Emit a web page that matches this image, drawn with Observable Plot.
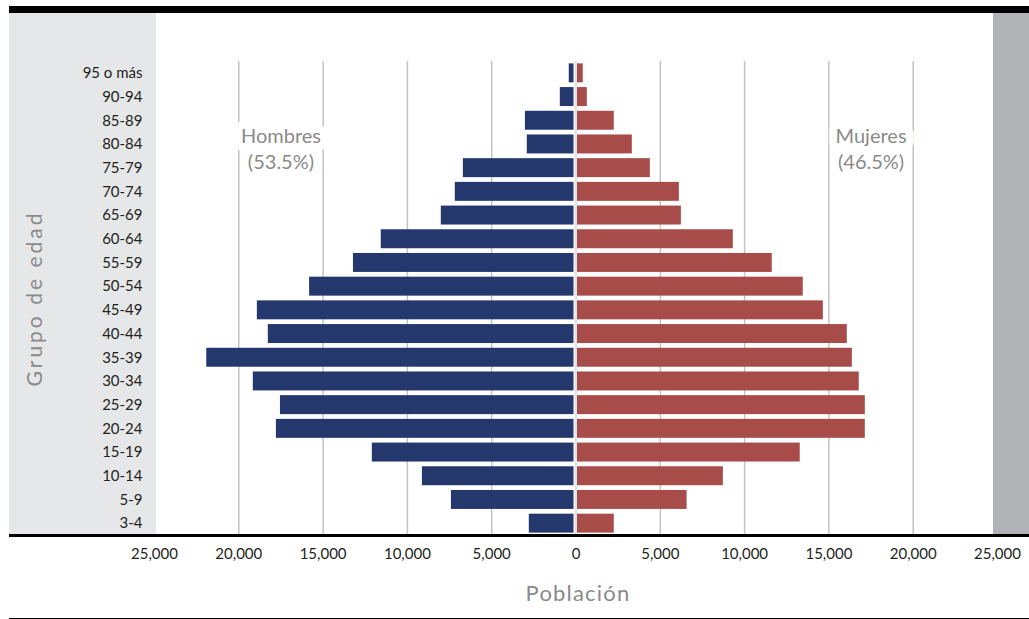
<!DOCTYPE html>
<html><head><meta charset="utf-8">
<script src="https://cdn.jsdelivr.net/npm/d3@7"></script>
<script src="https://cdn.jsdelivr.net/npm/@observablehq/plot@0.6"></script>
<style>
body{margin:0;background:#fff;}
#wrap{position:relative;width:1029px;height:619px;overflow:hidden;font-family:Lato,sans-serif;}
.deco{position:absolute;}
#chart{position:absolute;left:0;top:0;}
</style></head><body>
<div id="wrap">
<div class="deco" style="left:9px;top:6px;width:1020px;height:7px;background:#000"></div>
<div class="deco" style="left:9px;top:13px;width:147px;height:522px;background:#e6e7e8"></div>
<div class="deco" style="left:993px;top:13px;width:36px;height:522px;background:#b1b3b6"></div>
<div id="chart"></div>
<div class="deco" style="left:9px;top:534px;width:1020px;height:3px;background:#000"></div>
<div class="deco" style="left:9px;top:618px;width:1020px;height:1px;background:#000"></div>
</div>
<script>
const ageGroups = ["95 o más","90-94","85-89","80-84","75-79","70-74","65-69","60-64","55-59","50-54","45-49","40-44","35-39","30-34","25-29","20-24","15-19","10-14","5-9","3-4"];
const men   = [400, 930, 3000, 2890, 6680, 7160, 7990, 11550, 13200, 15800, 18900, 18250, 21900, 19140, 17530, 17770, 12080, 9110, 7390, 2770];
const women = [430, 670, 2270, 3340, 4410, 6130, 6250, 9330, 11640, 13480, 14670, 16090, 16390, 16800, 17160, 17160, 13300, 8740, 6590, 2270];
const xTicks = [-25000,-20000,-15000,-10000,-5000,0,5000,10000,15000,20000,25000];
const gridTicks = [-20000,-15000,-10000,-5000,5000,10000,15000,20000];
const sexLabels = ["Hombres\n(53.5%)","Mujeres\n(46.5%)"];
const sexLabelX = [-17500, 17500];
const sexLabelRow = "80-84";
const xTitle = "Población";
const yTitle = "Grupo de edad";

const rows = ageGroups.map((g,i) => ({group: g, men: men[i], women: women[i]}));
const labels = sexLabels.map((t,i) => ({text: t, x: sexLabelX[i]}));
const fmt = d3.format(",");

const chart = Plot.plot({
  width: 1029,
  height: 619,
  marginTop: 61,
  marginBottom: 84,
  marginLeft: 154,
  marginRight: 32,
  style: {background: "transparent", fontFamily: "Lato, sans-serif", fontSize: "15px", color: "#231f20"},
  x: {domain: [-25000, 25000], ticks: xTicks, tickFormat: d => fmt(Math.abs(d)), tickSize: 0, tickPadding: 13, label: null},
  y: {domain: ageGroups, label: null, tickSize: 0, tickPadding: 12, paddingInner: 0.2, paddingOuter: 0.1, round: false},
  marks: [
    Plot.ruleX(gridTicks, {stroke: "#c4c4c4", strokeWidth: 1.5}),
    Plot.ruleX([0], {stroke: "#e3e4e6", strokeWidth: 3}),
    Plot.text(labels, {x: "x", y: () => sexLabelRow, text: "text", dy: 3, fill: "#8a8a8a", stroke: "white", strokeWidth: 16, fontSize: 20, lineHeight: 1.3}),
    Plot.barX(rows, {y: "group", x1: 0, x2: d => -d.men, fill: "#24386e", insetRight: 2}),
    Plot.barX(rows, {y: "group", x1: 0, x2: d => d.women, fill: "#a84c4a", insetLeft: 1.5}),
    Plot.text([xTitle], {text: d => d, frameAnchor: "bottom", textAnchor: "middle", dy: 65, dx: 2, fill: "#8a8a8a", fontSize: 22}),
    Plot.text([yTitle], {text: d => d, frameAnchor: "left", textAnchor: "middle", rotate: -90, dx: -119, fill: "#8a8a8a", fontSize: 21})
  ]
});
d3.select(chart).selectAll("text").filter(function() { return this.textContent === xTitle; }).attr("letter-spacing", "1.2px");
d3.select(chart).selectAll("text").filter(function() { return this.textContent === yTitle; }).attr("letter-spacing", "3px");
document.getElementById("chart").appendChild(chart);
</script>
</body></html>
